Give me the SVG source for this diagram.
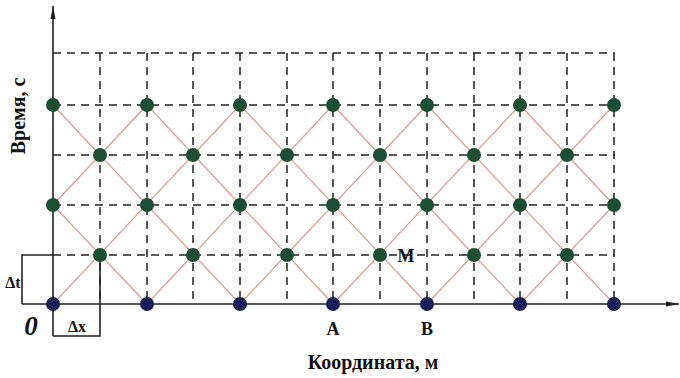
<svg xmlns="http://www.w3.org/2000/svg" width="680" height="378" viewBox="0 0 680 378">
<defs>
<style>
.grid{stroke:#222;stroke-width:1.5;stroke-dasharray:8 6;fill:none}
.ax{stroke:#222;stroke-width:1.6;fill:none}
.red{stroke:#e39a8c;stroke-width:1.2;fill:none}
.g{fill:#1d4d35}
.n{fill:#1a1e58}
.t{font-family:"Liberation Serif",serif;font-weight:bold;fill:#111}
</style>
<marker id="ah" markerWidth="14" markerHeight="8" refX="13" refY="4" orient="auto" markerUnits="userSpaceOnUse">
<path d="M0,1.5 L14,4 L0,6.5 Z" fill="#222"/>
</marker>
</defs>
<rect width="680" height="378" fill="#fff"/>
<g id="grid">
<path class="grid" d="M53,53H615 M53,105H615 M53,155H615 M53,205H615 M53,255H615"/>
<path class="grid" d="M100,53V304 M147,53V304 M193,53V304 M240,53V304 M287,53V304 M333,53V304 M380,53V304 M427,53V304 M474,53V304 M520,53V304 M567,53V304 M614,53V304"/>
</g>
<g id="connectors">
<path class="red" d="M53,304L240,105 M147,304L333,105 M240,304L427,105 M333,304L520,105 M427,304L614,105 M520,304L614,205 M53,205L147,105"/>
<path class="red" d="M614,304L427,105 M520,304L333,105 M427,304L240,105 M333,304L147,105 M240,304L53,105 M147,304L53,205 M614,205L520,105"/>
</g>
<g id="axes">
<path class="ax" d="M53,336V6" marker-end="url(#ah)"/>
<path class="ax" d="M22,304H679" marker-end="url(#ah)"/>
<path class="ax" d="M53,255H22V304"/>
<path class="ax" d="M100,255V336H53"/>
</g>
<g id="dots-bottom">
<circle class="n" cx="53" cy="304" r="7"/><circle class="n" cx="147" cy="304" r="7"/><circle class="n" cx="240" cy="304" r="7"/><circle class="n" cx="333" cy="304" r="7"/><circle class="n" cx="427" cy="304" r="7"/><circle class="n" cx="520" cy="304" r="7"/><circle class="n" cx="614" cy="304" r="7"/>
</g>
<g id="dots-row1">
<circle class="g" cx="100" cy="255" r="7"/><circle class="g" cx="193" cy="255" r="7"/><circle class="g" cx="287" cy="255" r="7"/><circle class="g" cx="380" cy="255" r="7"/><circle class="g" cx="474" cy="255" r="7"/><circle class="g" cx="567" cy="255" r="7"/>
</g>
<g id="dots-row2">
<circle class="g" cx="53" cy="205" r="7"/><circle class="g" cx="147" cy="205" r="7"/><circle class="g" cx="240" cy="205" r="7"/><circle class="g" cx="333" cy="205" r="7"/><circle class="g" cx="427" cy="205" r="7"/><circle class="g" cx="520" cy="205" r="7"/><circle class="g" cx="614" cy="205" r="7"/>
</g>
<g id="dots-row3">
<circle class="g" cx="100" cy="155" r="7"/><circle class="g" cx="193" cy="155" r="7"/><circle class="g" cx="287" cy="155" r="7"/><circle class="g" cx="380" cy="155" r="7"/><circle class="g" cx="474" cy="155" r="7"/><circle class="g" cx="567" cy="155" r="7"/>
</g>
<g id="dots-row4">
<circle class="g" cx="53" cy="105" r="7"/><circle class="g" cx="147" cy="105" r="7"/><circle class="g" cx="240" cy="105" r="7"/><circle class="g" cx="333" cy="105" r="7"/><circle class="g" cx="427" cy="105" r="7"/><circle class="g" cx="520" cy="105" r="7"/><circle class="g" cx="614" cy="105" r="7"/>
</g>
<g id="labels">
<text class="t" x="31" y="335" font-size="27" font-style="italic" text-anchor="middle">0</text>
<text class="t" x="13" y="288" font-size="16" font-weight="normal" text-anchor="middle">Δt</text>
<text class="t" x="77" y="332" font-size="16" font-weight="normal" text-anchor="middle">Δx</text>
<text class="t" x="333" y="335" font-size="18" text-anchor="middle">A</text>
<text class="t" x="427" y="335" font-size="18" text-anchor="middle">B</text>
<text class="t" x="406" y="262" font-size="18" text-anchor="middle">M</text>
<text class="t" x="373" y="369" font-size="20" text-anchor="middle">Координата, м</text>
<text class="t" font-size="20" text-anchor="middle" transform="translate(25,116) rotate(-90)">Время, с</text>
</g>
</svg>
